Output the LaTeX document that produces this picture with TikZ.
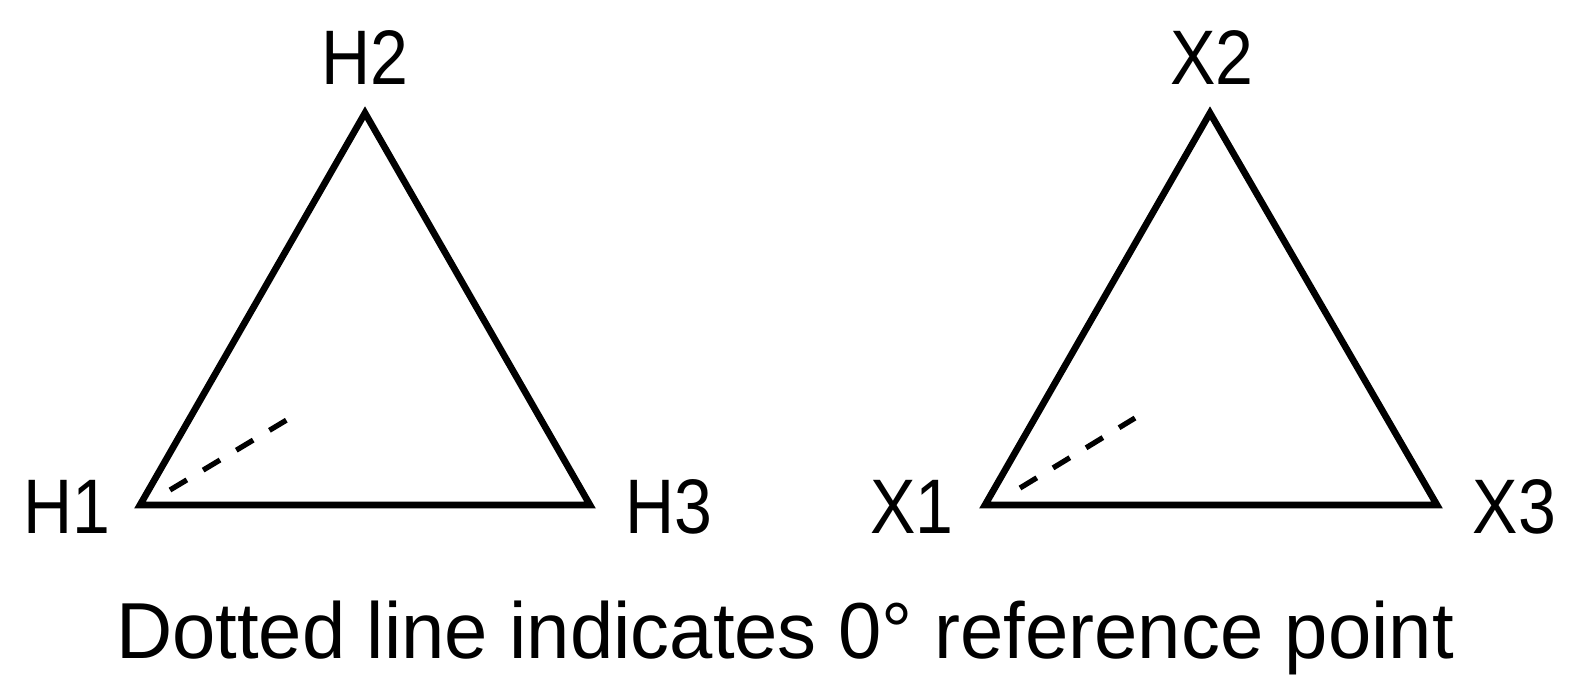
\documentclass[tikz,border=0pt]{standalone}
\usepackage{fontspec}
\setmainfont{Liberation Sans}
\usetikzlibrary{positioning}
\definecolor{ink}{HTML}{000000}
\tikzset{
  every picture/.style={line join=miter},
  side/.style={draw=ink, line width=1.9pt},
  zeroref/.style={draw=ink, line width=1.5pt, dash pattern=on 5.6pt off 5.4pt},
  vlbl/.style={font=\fontsize{22}{24}\selectfont, text=ink, inner sep=0pt, xscale=0.88},
  caption/.style={font=\fontsize{22.6}{24}\selectfont, text=ink, inner sep=0pt, xscale=0.98},
}
\begin{document}
\begin{tikzpicture}
  \useasboundingbox (0,0) rectangle (15.7,-6.74);
  % ---------------- H triangle ----------------
  \coordinate (h1) at (1.40,-5.05);
  \coordinate (h2) at (3.65,-1.13);
  \coordinate (h3) at (5.90,-5.05);
  \draw[side] (h1) -- (h2) -- (h3) -- cycle;
  \coordinate (hz0) at (1.70,-4.90);
  \coordinate (hz1) at (2.90,-4.18);
  \draw[zeroref] (hz0) -- (hz1);
  \node[vlbl, anchor=east] (lh1) at (1.11,-5.065) {H1};
  \node[vlbl, anchor=south] (lh2) at (3.65,-0.85) {H2};
  \node[vlbl, anchor=west] (lh3) at (6.25,-5.065) {H3};
  % ---------------- X triangle ----------------
  \coordinate (x1) at (9.85,-5.05);
  \coordinate (x2) at (12.10,-1.13);
  \coordinate (x3) at (14.37,-5.05);
  \draw[side] (x1) -- (x2) -- (x3) -- cycle;
  \coordinate (xz0) at (10.20,-4.88);
  \coordinate (xz1) at (11.35,-4.18);
  \draw[zeroref] (xz0) -- (xz1);
  \node[vlbl, anchor=east] (lx1) at (9.54,-5.065) {X1};
  \node[vlbl, anchor=south] (lx2) at (12.12,-0.85) {X2};
  \node[vlbl, anchor=west] (lx3) at (14.72,-5.065) {X3};
  % ---------------- caption ----------------
  \node[caption, anchor=base] (cap) at (7.85,-6.58) {Dotted line indicates 0° reference point};
\end{tikzpicture}
\end{document}
